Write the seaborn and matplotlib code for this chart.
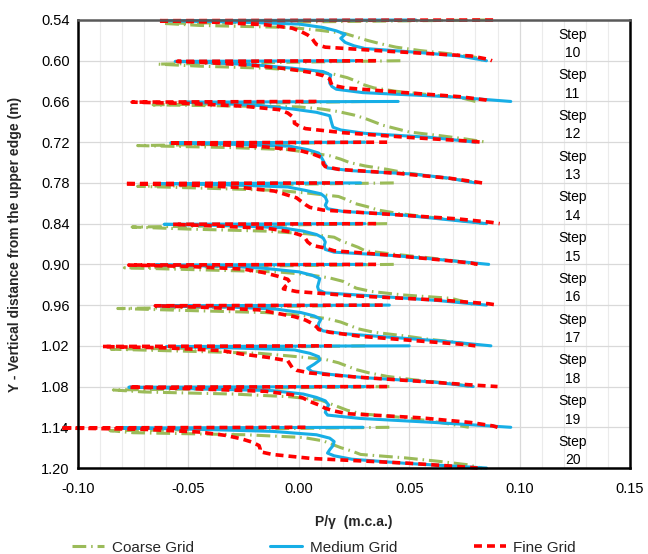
import numpy as np
import pandas as pd
import matplotlib
matplotlib.use("Agg")
import matplotlib.pyplot as plt
from matplotlib.ticker import MultipleLocator, FormatStrFormatter
import seaborn as sns

# Pressure profiles on the vertical face of each spillway step (steps 10-20)
STEPS = [10, 11, 12, 13, 14, 15, 16, 17, 18, 19, 20]
STEP_TOP = [0.54, 0.60, 0.66, 0.72, 0.78, 0.84, 0.90, 0.96, 1.02, 1.08, 1.14]

# depth of each reading below the step edge (m), one list per mesh
DEPTH_COARSE = [0.000, 0.005, 0.008, 0.011, 0.015, 0.020, 0.025, 0.030,
                0.035, 0.040, 0.045, 0.050, 0.055, 0.060]
DEPTH_MEDIUM = [0.000, 0.001, 0.003, 0.006, 0.011, 0.016, 0.021, 0.027,
                0.033, 0.038, 0.042, 0.047, 0.053, 0.060]
DEPTH_FINE = [0.000, 0.001, 0.003, 0.007, 0.012, 0.017, 0.022, 0.027,
              0.032, 0.036, 0.040, 0.046, 0.053, 0.058, 0.060]

# P/gamma (m.c.a.) per step, rows follow STEPS
COARSE_P = [
    [0.085, -0.0615, -0.045, -0.004, 0.009, 0.021, 0.026, 0.031, 0.037, 0.044, 0.055, 0.069, 0.080, 0.084],
    [0.046, -0.064, -0.045, -0.015, 0.005, 0.016, 0.022, 0.026, 0.029, 0.034, 0.044, 0.059, 0.074, 0.080],
    [0.030, -0.066, 0.000, 0.010, 0.018, 0.025, 0.030, 0.034, 0.038, 0.044, 0.050, 0.063, 0.075, 0.085],
    [0.030, -0.073, -0.030, -0.005, 0.004, 0.014, 0.019, 0.023, 0.030, 0.040, 0.048, 0.060, 0.072, 0.081],
    [0.043, -0.073, -0.040, -0.010, 0.004, 0.018, 0.022, 0.025, 0.031, 0.036, 0.045, 0.058, 0.072, 0.084],
    [0.040, -0.0755, -0.050, -0.015, 0.004, 0.016, 0.019, 0.023, 0.027, 0.030, 0.043, 0.058, 0.071, 0.080],
    [0.043, -0.079, -0.045, -0.010, 0.004, 0.014, 0.020, 0.023, 0.026, 0.033, 0.047, 0.069, 0.075, 0.080],
    [0.035, -0.082, -0.050, -0.015, 0.001, 0.013, 0.019, 0.023, 0.027, 0.034, 0.047, 0.058, 0.072, 0.080],
    [0.030, -0.085, -0.050, -0.018, -0.004, 0.012, 0.018, 0.022, 0.026, 0.032, 0.040, 0.052, 0.068, 0.078],
    [0.041, -0.084, -0.070, -0.030, -0.004, 0.010, 0.014, 0.018, 0.022, 0.028, 0.045, 0.058, 0.068, 0.077],
    [0.041, -0.0855, -0.075, -0.024, 0.002, 0.011, 0.015, 0.019, 0.024, 0.028, 0.048, 0.063, 0.076, 0.083],
]
MEDIUM_P = [
    [0.053, -0.060, -0.028, 0.000, 0.011, 0.017, 0.021, 0.019, 0.021, 0.025, 0.030, 0.051, 0.073, 0.085],
    [0.025, -0.056, -0.040, -0.020, -0.003, 0.011, 0.0145, 0.014, 0.014, 0.015, 0.017, 0.029, 0.068, 0.096],
    [0.045, -0.052, -0.035, -0.018, -0.003, 0.008, 0.014, 0.0145, 0.015, 0.0155, 0.019, 0.030, 0.060, 0.080],
    [0.030, -0.058, -0.030, -0.004, 0.004, 0.009, 0.010, 0.011, 0.012, 0.013, 0.024, 0.052, 0.068, 0.080],
    [0.028, -0.063, -0.030, -0.005, 0.003, 0.010, 0.012, 0.0128, 0.012, 0.013, 0.020, 0.046, 0.064, 0.085],
    [0.030, -0.061, -0.030, -0.008, 0.002, 0.008, 0.011, 0.012, 0.0115, 0.012, 0.016, 0.043, 0.064, 0.086],
    [0.030, -0.065, -0.030, -0.015, 0.000, 0.006, 0.0095, 0.009, 0.0085, 0.009, 0.012, 0.036, 0.062, 0.085],
    [0.041, -0.065, -0.030, -0.010, 0.001, 0.007, 0.010, 0.009, 0.0088, 0.011, 0.020, 0.040, 0.065, 0.087],
    [0.050, -0.060, -0.030, -0.002, 0.005, 0.009, 0.0095, 0.007, 0.004, 0.006, 0.014, 0.030, 0.060, 0.079],
    [0.030, -0.077, -0.050, -0.012, 0.002, 0.008, 0.012, 0.0135, 0.0125, 0.012, 0.013, 0.028, 0.062, 0.096],
    [0.029, -0.080, -0.045, -0.012, 0.008, 0.014, 0.016, 0.0155, 0.014, 0.013, 0.016, 0.024, 0.048, 0.085],
]
FINE_P = [
    [0.088, -0.064, -0.040, -0.015, -0.003, 0.001, 0.004, 0.006, 0.007, 0.008, 0.012, 0.040, 0.078, 0.086, 0.0875],
    [0.035, -0.055, -0.040, -0.020, -0.005, 0.005, 0.011, 0.014, 0.0145, 0.015, 0.021, 0.044, 0.073, 0.085, 0.087],
    [0.008, -0.0755, -0.050, -0.025, -0.009, -0.005, -0.003, -0.002, -0.002, 0.000, 0.003, 0.020, 0.050, 0.075, 0.083],
    [0.040, -0.059, -0.040, -0.015, 0.000, 0.006, 0.010, 0.011, 0.011, 0.012, 0.018, 0.045, 0.068, 0.079, 0.083],
    [0.020, -0.079, -0.050, -0.025, -0.011, -0.006, -0.001, 0.001, 0.003, 0.005, 0.011, 0.040, 0.072, 0.087, 0.091],
    [0.035, -0.057, -0.040, -0.014, -0.004, 0.001, 0.003, 0.004, 0.006, 0.012, 0.016, 0.040, 0.063, 0.078, 0.081],
    [0.035, -0.077, -0.050, -0.025, -0.016, -0.010, -0.005, -0.004, -0.006, -0.007, -0.001, 0.023, 0.066, 0.086, 0.090],
    [0.038, -0.065, -0.045, -0.018, -0.010, -0.002, 0.003, 0.006, 0.008, 0.009, 0.014, 0.028, 0.055, 0.075, 0.080],
    [0.015, -0.089, -0.060, -0.035, -0.026, -0.014, -0.005, -0.004, -0.003, -0.001, 0.005, 0.026, 0.058, 0.080, 0.090],
    [0.040, -0.077, -0.050, -0.015, -0.003, 0.002, 0.005, 0.009, 0.012, 0.016, 0.022, 0.055, 0.078, 0.088, 0.090],
    [0.003, -0.108, -0.070, -0.045, -0.033, -0.026, -0.021, -0.018, -0.0175, -0.0176, -0.012, 0.006, 0.050, 0.073, 0.081],
]

ORDER = ["Coarse Grid", "Medium Grid", "Fine Grid"]
PALETTE = {"Coarse Grid": "#9BBB59", "Medium Grid": "#17AEE6", "Fine Grid": "#FF0000"}
DASHES = {"Coarse Grid": (4.5, 1.6, 0.5, 1.6), "Medium Grid": "", "Fine Grid": (2.2, 1.4)}

rows = []
for name, depth, table in zip(ORDER, [DEPTH_COARSE, DEPTH_MEDIUM, DEPTH_FINE],
                              [COARSE_P, MEDIUM_P, FINE_P]):
    for step, top, values in zip(STEPS, STEP_TOP, table):
        for d, p in zip(depth, values):
            rows.append({"grid": name, "step": step, "p": p, "y": top + d})
df = pd.DataFrame(rows)

sns.set_style("white")
plt.rcParams["font.family"] = ["Liberation Sans", "DejaVu Sans"]

fig, ax = plt.subplots(figsize=(6.48, 5.54), dpi=100)
fig.subplots_adjust(left=0.1204, right=0.9722, top=0.9639, bottom=0.1552)

sns.lineplot(data=df, x="p", y="y", hue="grid", style="grid", units="step",
             estimator=None, sort=False, hue_order=ORDER, style_order=ORDER,
             palette=PALETTE, dashes=DASHES, linewidth=2.2, ax=ax)

for line in ax.lines:
    line.set_clip_on(False)
    line.set_solid_capstyle("round")
    if matplotlib.colors.to_hex(line.get_color()).lower() == "#ff0000":
        line.set_linewidth(2.6)

ax.set_xlim(-0.10, 0.15)
ax.set_ylim(1.20, 0.54)
ax.xaxis.set_major_locator(MultipleLocator(0.05))
ax.xaxis.set_minor_locator(MultipleLocator(0.01))
ax.yaxis.set_major_locator(MultipleLocator(0.06))
ax.xaxis.set_major_formatter(FormatStrFormatter("%.2f"))
ax.yaxis.set_major_formatter(FormatStrFormatter("%.2f"))
ax.tick_params(axis="both", which="both", length=0, labelsize=10.5, colors="#000000")
ax.tick_params(axis="x", pad=10)
ax.tick_params(axis="y", pad=6)

ax.set_axisbelow(True)
ax.grid(which="minor", axis="x", color="#EBEBEB", linewidth=0.8)
ax.grid(which="major", axis="x", color="#D9D9D9", linewidth=0.9)
ax.grid(which="major", axis="y", color="#D9D9D9", linewidth=0.9)

for side in ["left", "bottom", "right"]:
    ax.spines[side].set_color("#000000")
    ax.spines[side].set_linewidth(1.8)
    ax.spines[side].set_zorder(5)
ax.spines["top"].set_color("#595959")
ax.spines["top"].set_linewidth(1.8)
ax.spines["top"].set_zorder(5)

for step, top in zip(STEPS, STEP_TOP):
    ax.text(0.124, top + 0.035, f"Step\n{step}", ha="center", va="center",
            fontsize=10, linespacing=1.4, color="#000000")

ax.set_xlabel("P/\u03b3  (m.c.a.)", fontsize=10, fontweight="bold", labelpad=14)
ax.set_ylabel("Y - Vertical distance from the upper edge (m)", fontsize=10,
              fontweight="bold", labelpad=14)

handles, labels = ax.get_legend_handles_labels()
keep = [(h, l) for h, l in zip(handles, labels) if l in ORDER]
ax.get_legend().remove()
leg = fig.legend([h for h, _ in keep], [l for _, l in keep], loc="lower center",
                 bbox_to_anchor=(0.5, -0.026), ncol=3, frameon=False, fontsize=11,
                 columnspacing=5.0, handlelength=2.1, handletextpad=0.5)

fig.savefig("out.png", dpi=100)
